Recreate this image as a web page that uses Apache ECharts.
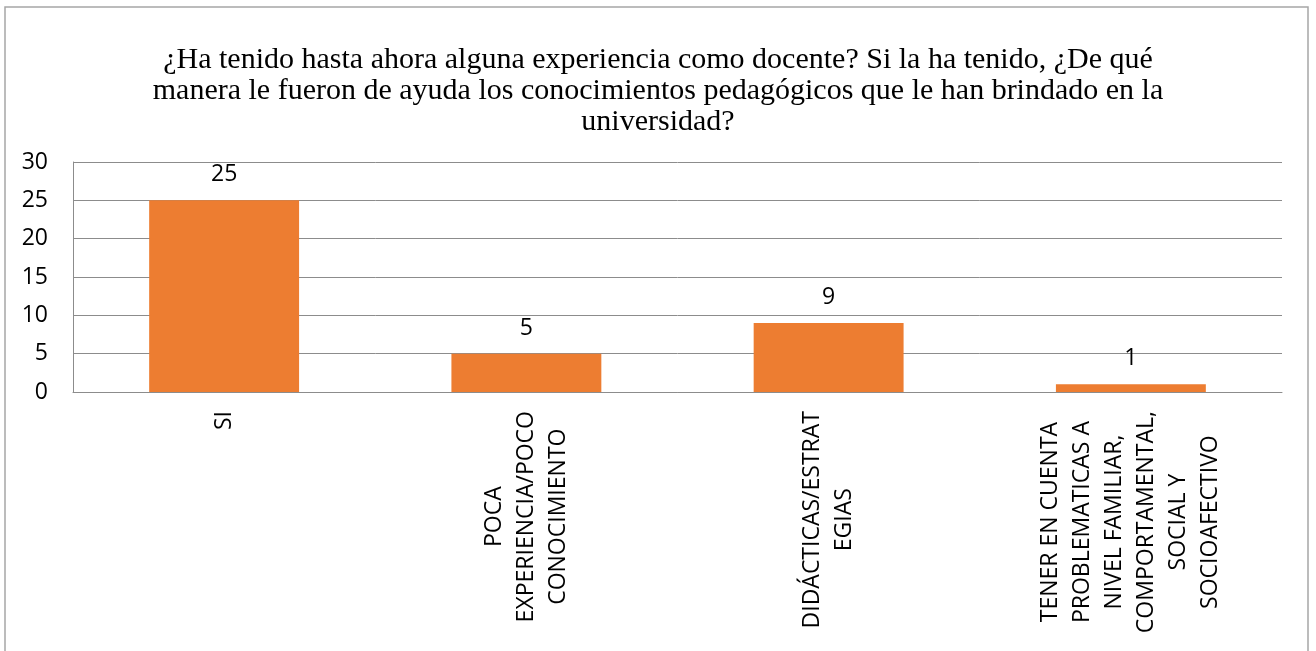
<!DOCTYPE html>
<html>
<head>
<meta charset="utf-8">
<script src="https://cdn.jsdelivr.net/npm/echarts@6/dist/echarts.min.js"></script>
<style>
	html, body { margin: 0; padding: 0; background: #fff; }
	#chart { width: 1316px; height: 651px; }
</style>
</head>
<body>
<div id="chart"></div>
<script>
var titleText = "¿Ha tenido hasta ahora alguna experiencia como docente? Si la ha tenido, ¿De qué\nmanera le fueron de ayuda los conocimientos pedagógicos que le han brindado en la\nuniversidad?";
var categories = [
	"SI",
	"POCA\nEXPERIENCIA/POCO\nCONOCIMIENTO",
	"DIDÁCTICAS/ESTRAT\nEGIAS",
	"TENER EN CUENTA\nPROBLEMATICAS A\nNIVEL FAMILIAR,\nCOMPORTAMENTAL,\nSOCIAL Y\nSOCIOAFECTIVO"
];
var values = [25, 5, 9, 1];
var yTicks = [0, 5, 10, 15, 20, 25, 30];

var sans = '"Open Sans", "Noto Sans", sans-serif';
var gridColor = '#8c8c8c';

var mychart = echarts.init(document.getElementById('chart'));
var option = {
	animation: false,
	backgroundColor: '#fff',
	graphic: [{
		type: 'rect',
		shape: { x: 5, y: 7, width: 1303, height: 660 },
		style: { fill: 'none', stroke: '#a6a6a6', lineWidth: 1.5 },
		silent: true
	}],
	title: {
		text: titleText,
		left: 'center',
		top: 40,
		textStyle: {
			fontFamily: '"Liberation Serif", "Times New Roman", serif',
			fontSize: 30,
			fontWeight: 'normal',
			lineHeight: 31,
			color: '#000'
		}
	},
	grid: {
		left: 73,
		right: 34,
		top: 162,
		bottom: 259,
		outerBoundsMode: 'none'
	},
	xAxis: {
		type: 'category',
		data: categories,
		axisLine: { lineStyle: { color: gridColor, width: 1 } },
		axisTick: { show: false },
		axisLabel: {
			rotate: 90,
			margin: 19,
			interval: 0,
			formatter: function(v) { //每行居中
				return v.split('\n').map(function(l) { return '{c|' + l + '}'; }).join('\n');
			},
			rich: {
				c: {
					fontFamily: sans,
					fontSize: 23,
					lineHeight: 32,
					color: '#000',
					align: 'center'
				}
			}
		}
	},
	yAxis: {
		type: 'value',
		min: yTicks[0],
		max: yTicks[yTicks.length - 1],
		interval: 5,
		axisLine: { show: true, lineStyle: { color: gridColor, width: 1 } },
		axisTick: { show: false },
		splitLine: { lineStyle: { color: gridColor, width: 1 } },
		axisLabel: {
			margin: 25,
			fontFamily: sans,
			fontSize: 23,
			color: '#000'
		}
	},
	series: [{
		type: 'bar',
		data: values,
		barWidth: '49.6%',
		itemStyle: { color: '#ED7D31' },
		label: {
			show: true,
			position: 'top',
			distance: 14,
			fontFamily: sans,
			fontSize: 23,
			color: '#000'
		}
	}]
};
mychart.setOption(option);
</script>
</body>
</html>
